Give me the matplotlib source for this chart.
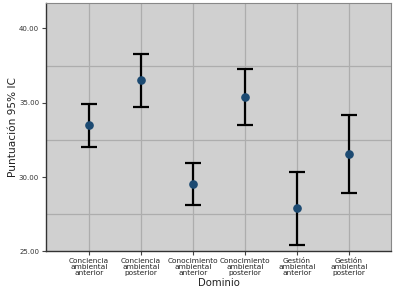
import matplotlib.pyplot as plt

# Data
categorias = ['Conciencia\nambiental\nanterior', 'Conciencia\nambiental\nposterior',
              'Conocimiento\nambiental\nanterior', 'Conocimiento\nambiental\nposterior',
              'Gestión\nambiental\nanterior', 'Gestión\nambiental\nposterior']
media = [33.48, 36.51, 29.55, 35.40, 27.89, 31.53]
ic_sup = [34.93, 38.30, 30.94, 37.29, 30.36, 34.15]
ic_inf = [32.02, 34.73, 28.14, 33.52, 25.42, 28.90]
y_ticks = [25, 30, 35, 40]
y_grid = [27.5, 32.5, 37.5]

x = list(range(len(categorias)))
err_low = [m - lo for m, lo in zip(media, ic_inf)]
err_high = [hi - m for m, hi in zip(media, ic_sup)]

fig = plt.figure(figsize=(3.97, 2.95), dpi=100)
ax = fig.add_axes([0.1159, 0.148, 0.869, 0.842])
ax.set_facecolor('#d0d0d0')

# grid lines
for g in y_grid:
    ax.axhline(g, color='#adadad', lw=0.9, zorder=1)
for xi in x:
    ax.axvline(xi, color='#adadad', lw=0.9, zorder=1)

ax.errorbar(x, media, yerr=[err_low, err_high], fmt='none', ecolor='black',
            elinewidth=1.6, capsize=6, capthick=1.6, zorder=3)
ax.plot(x, media, 'o', color='#1c4a72', markersize=5.2, zorder=4)

ax.set_xlim(-0.83, 5.81)
ax.set_ylim(25, 41.71)
ax.set_yticks(y_ticks)
ax.set_yticklabels(['%.2f' % t for t in y_ticks], fontsize=5, color='#333333')
ax.set_xticks(x)
ax.set_xticklabels(categorias, fontsize=5.3, color='#222222', linespacing=0.95)
ax.tick_params(axis='both', length=3, width=0.8, color='#444444', pad=2)

for side in ['top', 'right']:
    ax.spines[side].set_color('#888888')
    ax.spines[side].set_linewidth(0.8)
for side in ['left', 'bottom']:
    ax.spines[side].set_color('#333333')
    ax.spines[side].set_linewidth(1.0)

fig.text(13 / 397, 1 - 127 / 295, 'Puntuación 95% IC', rotation=90,
         ha='center', va='center', fontsize=7.6, color='#222222')
fig.text(219 / 397, 1 - 283 / 295, 'Dominio', ha='center', va='center',
         fontsize=7.3, color='#222222')

fig.savefig('out.png', dpi=100)
